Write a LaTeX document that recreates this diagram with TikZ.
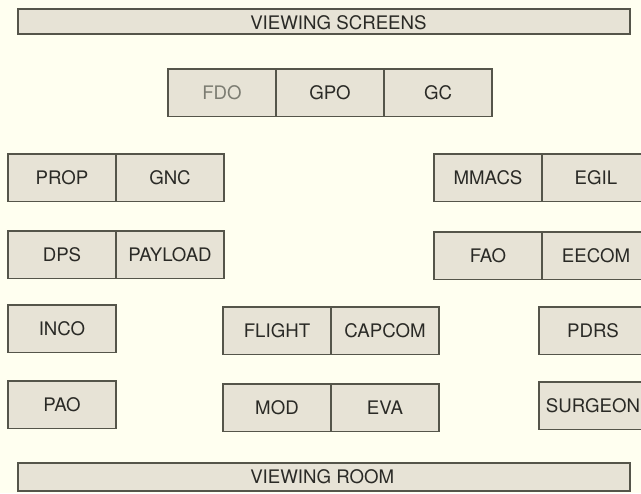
\documentclass[tikz,border=0pt]{standalone}
\usepackage{fontspec}
\setmainfont{TeX Gyre Heros}
\usetikzlibrary{positioning, calc}
\definecolor{mcBack}{HTML}{FFFFF0}
\definecolor{mcFill}{HTML}{E7E3D6}
\definecolor{mcLine}{HTML}{55554A}
\definecolor{mcText}{HTML}{2A2A26}
\definecolor{mcMute}{HTML}{7C7C72}
\tikzset{
  console/.style={
    draw=mcLine, fill=mcFill, line width=1pt, outer sep=0pt, inner sep=0pt,
    minimum width=81pt, minimum height=35.5pt, anchor=north west,
    font=\fontsize{14}{16}\selectfont, text=mcText
  },
  bar/.style={
    draw=mcLine, fill=mcFill, line width=1pt, outer sep=0pt, inner sep=0pt,
    minimum width=459pt, anchor=north west
  },
  bartext/.style={font=\fontsize{14}{16}\selectfont, text=mcText, anchor=west, inner sep=0pt}
}
\begin{document}
\begin{tikzpicture}[x=0.75pt, y=-0.75pt]
  \fill[mcBack] (0,0) rectangle (641,493);
  \useasboundingbox (0,0) rectangle (641,493);
  % front and back of the room
  \node[bar, minimum height=18.75pt] (screens) at (18,9) {};
  \node[bartext] (screenstxt) at ($(screens.west)+(232,1)$) {VIEWING SCREENS};
  \node[bar, minimum height=21pt] (room) at (18,463) {};
  \node[bartext] (roomtxt) at ($(room.west)+(232,0)$) {VIEWING ROOM};
  % top row
  \node[console, text=mcMute] (fdo) at (168,69) {FDO};
  \node[console, right=0pt of fdo] (gpo) {GPO};
  \node[console, right=0pt of gpo] (gc) {GC};
  % left side
  \node[console] (prop) at (8,154) {PROP};
  \node[console, right=0pt of prop] (gnc) {GNC};
  \node[console] (dps) at (8,231) {DPS};
  \node[console, right=0pt of dps] (payload) {PAYLOAD};
  \node[console] (inco) at (8,305) {INCO};
  \node[console] (pao) at (8,381) {PAO};
  % right side
  \node[console] (mmacs) at (434,154) {MMACS};
  \node[console, right=0pt of mmacs] (egil) {EGIL};
  \node[console] (fao) at (434,232) {FAO};
  \node[console, right=0pt of fao] (eecom) {EECOM};
  \node[console] (pdrs) at (539,307) {PDRS};
  \node[console] (surgeon) at (539,382) {SURGEON};
  % centre
  \node[console] (flight) at (223,307) {FLIGHT};
  \node[console, right=0pt of flight] (capcom) {CAPCOM};
  \node[console] (mod) at (223,384) {MOD};
  \node[console, right=0pt of mod] (eva) {EVA};
\end{tikzpicture}
\end{document}
